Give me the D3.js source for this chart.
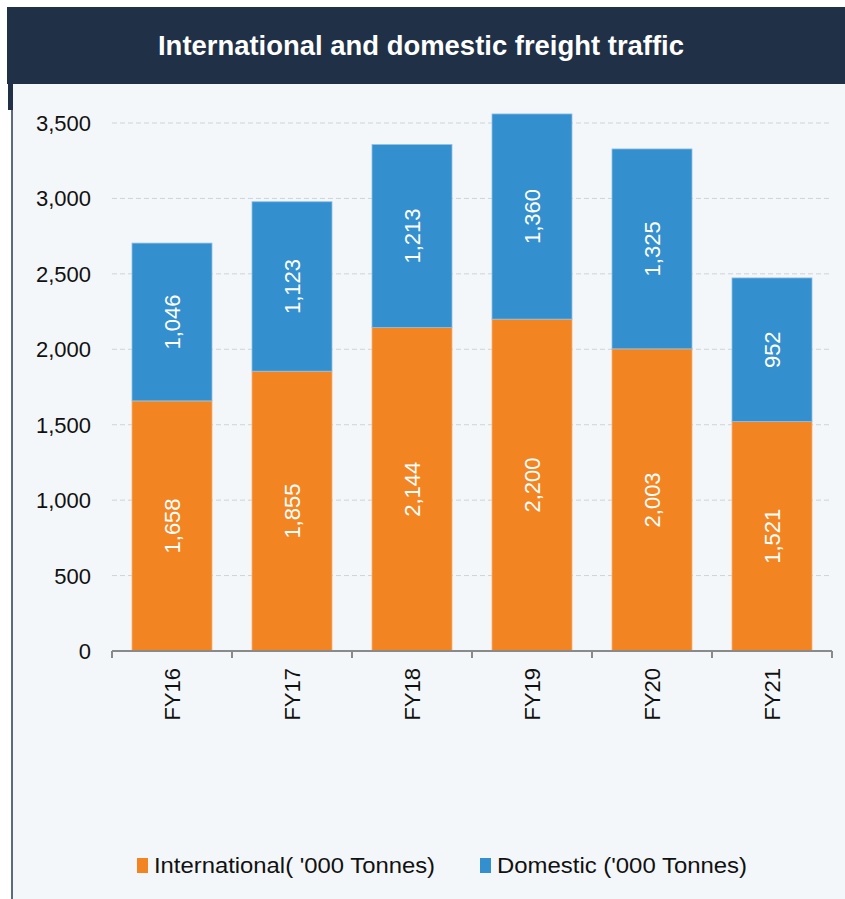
<!DOCTYPE html>
<meta charset="utf-8">
<style>
body {margin: 0; background: white;}
text {font-family: "Liberation Sans", Arial, sans-serif;}
.grid line {stroke: #cfd3d6; stroke-dasharray: 5,3;}
.axis path, .axis line {stroke: #8a8a8a; stroke-width: 2px;}
</style>
<body>
<script src="https://d3js.org/d3.v7.min.js"></script>
<script>
var years = ["FY16", "FY17", "FY18", "FY19", "FY20", "FY21"]
var international = [1658, 1855, 2144, 2200, 2003, 1521]
var domestic = [1046, 1123, 1213, 1360, 1325, 952]
var yTicks = [0, 500, 1000, 1500, 2000, 2500, 3000, 3500]
var legendLabels = ["International( '000 Tonnes)", "Domestic ('000 Tonnes)"]

var width = 845, height = 899
var svg = d3.select("body").append("svg")
  .attr("width", width).attr("height", height)

// panel + header
svg.append("rect").attr("x", 12).attr("y", 83).attr("width", width - 12).attr("height", height - 83)
  .attr("fill", "#f4f7f9")
svg.append("line").attr("x1", 12).attr("x2", 12).attr("y1", 83).attr("y2", height)
  .attr("stroke", "#2b3a4c").attr("stroke-width", 1.5)
svg.append("rect").attr("x", 8).attr("y", 83).attr("width", 5).attr("height", 27).attr("fill", "#203047")
svg.append("rect").attr("x", 7).attr("y", 7).attr("width", width - 7).attr("height", 77)
  .attr("fill", "#203047")
svg.append("text").attr("x", 421).attr("y", 55).attr("text-anchor", "middle")
  .attr("fill", "white").attr("font-size", "27px").attr("font-weight", "bold")
  .attr("textLength", 526).attr("lengthAdjust", "spacingAndGlyphs")
  .text("International and domestic freight traffic")

var x = d3.scaleBand().domain(years).range([112, 832]).paddingInner(1 / 3).paddingOuter(1 / 6)
var y = d3.scaleLinear().domain([0, 3500]).range([651, 123])

svg.append("g").attr("class", "grid")
  .selectAll("line").data(yTicks.slice(1)).enter().append("line")
  .attr("x1", 112).attr("x2", 832).attr("y1", d => y(d)).attr("y2", d => y(d))

svg.selectAll(".ylab").data(yTicks).enter().append("text")
  .attr("x", 91).attr("y", d => y(d) + 8).attr("text-anchor", "end")
  .attr("font-size", "22px").attr("fill", "#111").text(d3.format(","))

var stack = d3.stack().keys(["international", "domestic"])(
  years.map((yr, i) => ({year: yr, international: international[i], domestic: domestic[i]})))
var colors = ["#f28522", "#338fce"]

stack.forEach(function(layer, li) {
  var g = svg.append("g")
  g.selectAll("rect").data(layer).enter().append("rect")
    .attr("x", d => x(d.data.year)).attr("width", x.bandwidth())
    .attr("y", d => y(d[1])).attr("height", d => y(d[0]) - y(d[1]))
    .attr("fill", colors[li]).attr("stroke", li ? "#8fc0e6" : "#f7b27a").attr("stroke-width", 0.8)
  g.selectAll("text").data(layer).enter().append("text")
    .attr("transform", d => "translate(" + (x(d.data.year) + x.bandwidth() / 2 + 8) + "," + y((d[0] + d[1]) / 2) + ") rotate(-90)")
    .attr("text-anchor", "middle").attr("font-size", "22px").attr("fill", "white")
    .text(d => d3.format(",")(d[1] - d[0]))
})

var xAxis = svg.append("g").attr("class", "axis").attr("transform", "translate(0,651)")
  .call(d3.axisBottom(x).tickSize(0).tickFormat(""))
xAxis.select(".domain").attr("d", "M112,0H832")
xAxis.selectAll(".tick").remove()
xAxis.selectAll(".sep").data(d3.range(years.length + 1)).enter().append("line")
  .attr("x1", i => 112 + i * 120).attr("x2", i => 112 + i * 120).attr("y1", 0).attr("y2", 7)

svg.selectAll(".xlab").data(years).enter().append("text")
  .attr("transform", d => "translate(" + (x(d) + x.bandwidth() / 2 + 8) + ",668) rotate(-90)")
  .attr("text-anchor", "end").attr("font-size", "22px").attr("fill", "#111").text(d => d)

var legX = [137, 480], legLen = [281, 250]
var leg = svg.selectAll(".leg").data(legendLabels).enter().append("g")
  .attr("transform", (d, i) => "translate(" + legX[i] + ",858)")
leg.append("rect").attr("x", 0).attr("y", 0).attr("width", 11).attr("height", 15).attr("fill", (d, i) => colors[i])
leg.append("text").attr("x", 17).attr("y", 15).attr("font-size", "22px").attr("fill", "#111")
  .attr("textLength", (d, i) => legLen[i]).attr("lengthAdjust", "spacingAndGlyphs").text(d => d)
</script>
